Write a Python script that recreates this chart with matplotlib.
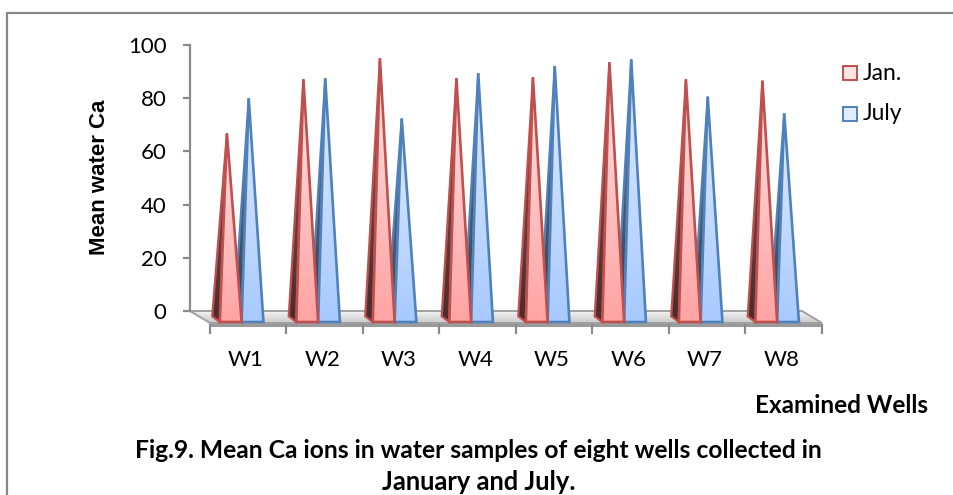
import matplotlib
matplotlib.use("Agg")
import matplotlib.pyplot as plt
import numpy as np
from matplotlib.patches import Polygon, Rectangle
from matplotlib.lines import Line2D
from matplotlib.colors import LinearSegmentedColormap

# ---------------- data ----------------
wells = ["W1", "W2", "W3", "W4", "W5", "W6", "W7", "W8"]
series_names = ["Jan.", "July"]
jan = [66.8, 87.1, 95.0, 87.5, 87.9, 93.5, 87.1, 86.6]
july = [80.0, 87.5, 72.4, 89.4, 92.1, 94.6, 80.6, 74.3]
yticks = [0, 20, 40, 60, 80, 100]
ylabel = "Mean water Ca"
xlabel = "Examined Wells"
caption1 = "Fig.9. Mean Ca ions in water samples of eight wells collected in"
caption2 = "January and July."

# ---------------- styling ----------------
W, H = 954, 495
fig = plt.figure(figsize=(W / 100, H / 100), dpi=100)
PXX, PXY = 76.5, 2.66          # pixels per category / per value unit
Y0PIX, X0PIX = 311.0, 190.0    # pixel of value 0 / of x=-0.5
YMIN, YMAX = -10, 105
XMIN, XMAX = -0.5, 8.0
bot_pix = Y0PIX - YMIN * PXY
top_pix = Y0PIX - YMAX * PXY
ax = fig.add_axes([X0PIX / W, (H - bot_pix) / H, (XMAX - XMIN) * PXX / W,
                   (bot_pix - top_pix) / H])


def dxd(px):
    return px / PXX


def dyd(px):
    return px / PXY


AXCOL = "#8A8A8A"
FONT = "Lato"
n = len(wells)

# floor
fdx, fdy = dxd(20), -dyd(12)
floor = [(-0.5, 0), (n - 0.5, 0), (n - 0.5 + fdx, fdy), (-0.5 + fdx, fdy)]
floor_cmap = LinearSegmentedColormap.from_list("fl", ["#C9C9C9", "#F4F4F4"])
grad = np.linspace(0, 1, 64).reshape(-1, 1)
im = ax.imshow(grad, extent=[-0.5, n - 0.5 + fdx, fdy, 0], origin="lower",
               cmap=floor_cmap, aspect="auto", zorder=1)
fp = Polygon(floor, closed=True, facecolor="none", edgecolor="#A0A0A0", lw=1.4, zorder=2)
ax.add_patch(fp)
im.set_clip_path(fp)
ax.plot([-0.5 + fdx, n - 0.5 + fdx], [fdy - dyd(1.5), fdy - dyd(1.5)], color="#9A9A9A",
        lw=2.2, zorder=2, solid_capstyle="butt")
for k in range(n + 1):
    ax.plot([-0.5 + fdx + k, -0.5 + fdx + k], [fdy - dyd(2), fdy - dyd(10)],
            color=AXCOL, lw=1.6, zorder=2)

# pyramids
bw = 0.285
yb = -dyd(11)
bdx, bdy = -dxd(7.6), dyd(5.7)
styles = [
    dict(edge="#C0504D", front=["#FFA3A3", "#FFE4E4"], side=["#4A2C2C", "#8A5656"]),
    dict(edge="#4F81BD", front=["#A8CAFF", "#E0ECFF"], side=["#35414F", "#6A7C92"]),
]
values = [jan, july]


def grad_poly(pts, colors, z):
    xs = [p[0] for p in pts]
    ys = [p[1] for p in pts]
    cm = LinearSegmentedColormap.from_list("g", colors)
    img = ax.imshow(grad, extent=[min(xs), max(xs), min(ys), max(ys)], origin="lower",
                    cmap=cm, aspect="auto", zorder=z)
    poly = Polygon(pts, closed=True, facecolor="none", edgecolor="none", zorder=z)
    ax.add_patch(poly)
    img.set_clip_path(poly)


z = 3
for i in range(n):
    for s in [1, 0]:
        st = styles[s]
        v = values[s][i]
        fl = i - 0.11 + s * bw
        fr = fl + bw
        tip = ((fl + fr) / 2 + bdx / 2, v)
        side = [(fl + bdx, yb + bdy), (fl, yb), tip]
        front = [(fl, yb), (fr, yb), tip]
        grad_poly(side, st["side"], z)
        ax.add_patch(Polygon(side, closed=True, facecolor="none", edgecolor=st["edge"],
                             lw=1.6, joinstyle="miter", zorder=z + 0.5))
        z += 1
        grad_poly(front, st["front"], z)
        ax.add_patch(Polygon(front, closed=True, facecolor="none", edgecolor=st["edge"],
                             lw=1.9, joinstyle="miter", zorder=z + 0.5))
        z += 1

# axes
ax.set_xlim(XMIN, XMAX)
ax.set_ylim(YMIN, YMAX)
for sp in ["top", "right", "bottom"]:
    ax.spines[sp].set_visible(False)
ax.spines["left"].set_bounds(0, 100)
ax.spines["left"].set_color(AXCOL)
ax.spines["left"].set_linewidth(1.6)
ax.set_yticks(yticks)
ax.set_yticklabels([str(t) for t in yticks], fontsize=16, family=FONT)
ax.tick_params(axis="y", direction="out", length=5, width=1.6, color=AXCOL, pad=12)
ax.set_xticks([])
ax.patch.set_alpha(0)

for i, w in enumerate(wells):
    ax.text(i + fdx - 0.03, dyd(Y0PIX - 360), w, ha="center", va="center",
            fontsize=16, family=FONT, clip_on=False)

# legend
for s, name in enumerate(series_names):
    yc = [73, 114][s]
    fig.add_artist(Rectangle((843 / W, 1 - (yc + 7) / H), 14 / W, 14 / H,
                             transform=fig.transFigure, facecolor=styles[s]["front"][1],
                             edgecolor=styles[s]["edge"], lw=1.4))
    fig.text(863 / W, 1 - yc / H, name, ha="left", va="center", fontsize=16.5, family=FONT)

# labels
fig.text(100 / W, 1 - 177 / H, ylabel, rotation=90, ha="center", va="center",
         fontsize=16, fontweight="bold", family="Liberation Sans")
t_x = fig.text(928 / W, 1 - 405.5 / H, xlabel, ha="right", va="center",
               fontsize=16, fontweight="bold", family=FONT)
t_c1 = fig.text(478 / W, 1 - 451 / H, caption1, ha="center", va="center",
                fontsize=17, fontweight="bold", family=FONT)
t_c2 = fig.text(479 / W, 1 - 482.5 / H, caption2, ha="center", va="center",
                fontsize=17, fontweight="bold", family=FONT)

# frame
fig.add_artist(Line2D([7.5 / W, 7.5 / W, 1], [0, 1 - 12.5 / H, 1 - 12.5 / H],
                      transform=fig.transFigure, color="#878787", lw=1.6))

# fit caption widths
r = fig.canvas.get_renderer()
for t, target in [(t_x, 173), (t_c1, 689), (t_c2, 195)]:
    w = t.get_window_extent(r).width
    t.set_fontsize(t.get_fontsize() * target / w)

fig.savefig("out.png", dpi=100)
